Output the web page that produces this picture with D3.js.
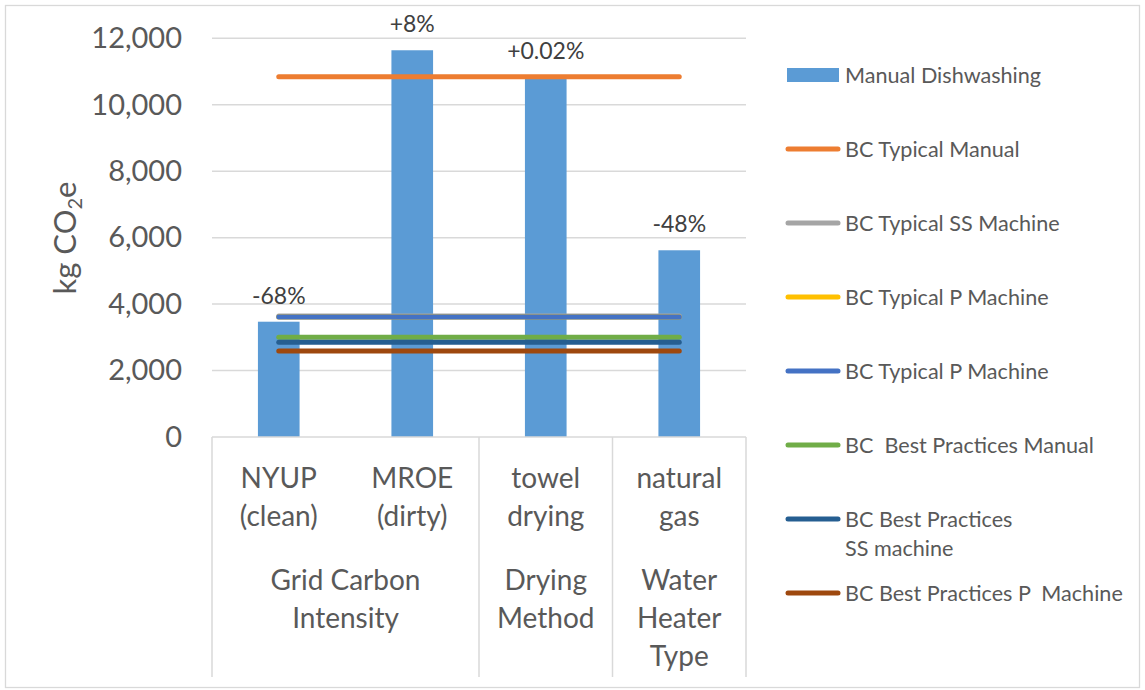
<!DOCTYPE html>
<html>
<head>
<meta charset="utf-8">
<script src="https://cdn.jsdelivr.net/npm/d3@7/dist/d3.min.js"></script>
<style>
  html, body { margin: 0; padding: 0; background: #fff; }
  svg { display: block; font-family: Lato, "Open Sans", sans-serif; }
</style>
</head>
<body>
<svg id="chart" width="1145" height="690"></svg>
<script>
// Sub-categories (two-line labels) and their parent groups
const subCategories = ["NYUP (clean)", "MROE (dirty)", "towel drying", "natural gas"];
const subLabelLines = [["NYUP", "(clean)"], ["MROE", "(dirty)"], ["towel", "drying"], ["natural", "gas"]];
const groupNames = ["Grid Carbon Intensity", "Drying Method", "Water Heater Type"];
const groupLabelLines = [["Grid Carbon", "Intensity"], ["Drying", "Method"], ["Water", "Heater", "Type"]];
const groupSpans = [[0, 1], [2, 2], [3, 3]];

// Manual dishwashing scenarios (bars) and their change labels
const manualValues = [3470, 11640, 10842, 5620];
const changeLabels = ["-68%", "+8%", "+0.02%", "-48%"];

// Reference lines (constant across categories)
const lineNames = ["BC Typical Manual", "BC Typical SS Machine", "BC Typical P Machine",
  "BC Typical P Machine", "BC  Best Practices Manual", "BC Best Practices\nSS machine",
  "BC Best Practices P  Machine"];
const typicalManual = [10840, 10840, 10840, 10840];
const typicalSS = [3645, 3645, 3645, 3645];
const typicalPYellow = [3610, 3610, 3610, 3610];
const typicalPBlue = [3610, 3610, 3610, 3610];
const bestManual = [3000, 3000, 3000, 3000];
const bestSS = [2850, 2850, 2850, 2850];
const bestP = [2590, 2590, 2590, 2590];
const lineValues = [typicalManual, typicalSS, typicalPYellow, typicalPBlue, bestManual, bestSS, bestP];
const lineColors = ["#ED7D31", "#A5A5A5", "#FFC000", "#4472C4", "#70AD47", "#255E91", "#9E480E"];

const yTicks = [0, 2000, 4000, 6000, 8000, 10000, 12000];
const barColor = "#5B9BD5";

const svg = d3.select("#chart");
const plot = { left: 212, right: 746, top: 38.3, bottom: 437 };

// outer chart frame
svg.append("rect")
  .attr("x", 5.5).attr("y", 5.5).attr("width", 1134).attr("height", 682)
  .attr("fill", "#fff").attr("stroke", "#d9d9d9").attr("stroke-width", 1.3);

const x = d3.scaleBand().domain(subCategories).range([plot.left, plot.right]).padding(0);
const y = d3.scaleLinear().domain([0, 12000]).range([plot.bottom, plot.top]);
const barW = x.bandwidth() * 0.312;

// gridlines
svg.append("g").selectAll("line").data(yTicks.filter(d => d > 0)).join("line")
  .attr("x1", plot.left).attr("x2", plot.right)
  .attr("y1", d => y(d)).attr("y2", d => y(d))
  .attr("stroke", "#d9d9d9").attr("stroke-width", 1.5);

// y axis tick labels
const yAxis = d3.axisLeft(y).tickValues(yTicks).tickFormat(d3.format(",")).tickSize(0).tickPadding(0);
const yg = svg.append("g").attr("transform", "translate(182,0)").call(yAxis);
yg.select(".domain").remove();
yg.selectAll("text").attr("font-size", 29).attr("fill", "#595959")
  .attr("font-family", "Lato, 'Open Sans', sans-serif");

// y axis title
const yt = svg.append("text")
  .attr("transform", "translate(76,238) rotate(-90)")
  .attr("text-anchor", "middle")
  .attr("font-size", 31).attr("fill", "#595959");
yt.append("tspan").text("kg CO");
yt.append("tspan").text("2").attr("font-size", 20).attr("dy", 6);
yt.append("tspan").text("e").attr("dy", -6);

// bars
svg.append("g").selectAll("rect").data(manualValues).join("rect")
  .attr("x", (d, i) => x(subCategories[i]) + (x.bandwidth() - barW) / 2)
  .attr("y", d => y(d))
  .attr("width", barW)
  .attr("height", d => y(0) - y(d))
  .attr("fill", barColor);

// category axis: baseline and group separators
const axisG = svg.append("g").attr("stroke", "#d9d9d9").attr("stroke-width", 1.5);
axisG.append("line").attr("x1", plot.left).attr("x2", plot.right)
  .attr("y1", plot.bottom).attr("y2", plot.bottom);
const seps = [plot.left].concat(groupSpans.map(s => x(subCategories[s[1]]) + x.bandwidth()));
axisG.selectAll("line.sep").data(seps).join("line").attr("class", "sep")
  .attr("x1", d => d).attr("x2", d => d)
  .attr("y1", plot.bottom).attr("y2", 677);

// reference lines
const lineGen = d3.line()
  .x((d, i) => x(subCategories[i]) + x.bandwidth() / 2)
  .y(d => y(d));
svg.append("g").selectAll("path").data(lineValues).join("path")
  .attr("d", d => lineGen(d))
  .attr("fill", "none")
  .attr("stroke", (d, i) => lineColors[i])
  .attr("stroke-width", 5)
  .attr("stroke-linecap", "round");

// change labels above bars
svg.append("g").selectAll("text").data(manualValues).join("text")
  .attr("x", (d, i) => x(subCategories[i]) + x.bandwidth() / 2)
  .attr("y", d => y(d) - 18)
  .attr("text-anchor", "middle")
  .attr("font-size", 23).attr("fill", "#404040")
  .text((d, i) => changeLabels[i]);

// sub-category labels
const subG = svg.append("g").attr("font-size", 28).attr("fill", "#595959").attr("text-anchor", "middle");
subLabelLines.forEach((lines, i) => {
  const t = subG.append("text").attr("x", x(subCategories[i]) + x.bandwidth() / 2).attr("y", 488);
  lines.forEach((l, j) => t.append("tspan").attr("x", x(subCategories[i]) + x.bandwidth() / 2)
    .attr("dy", j === 0 ? 0 : 38).text(l));
});

// group labels
const grpG = svg.append("g").attr("font-size", 28).attr("fill", "#595959").attr("text-anchor", "middle");
groupLabelLines.forEach((lines, i) => {
  const s = groupSpans[i];
  const cx = (x(subCategories[s[0]]) + x(subCategories[s[1]]) + x.bandwidth()) / 2;
  const t = grpG.append("text").attr("x", cx).attr("y", 590);
  lines.forEach((l, j) => t.append("tspan").attr("x", cx).attr("dy", j === 0 ? 0 : 38).text(l));
});

// legend
const legendItems = [{ name: "Manual Dishwashing", color: barColor, type: "bar" }]
  .concat(lineNames.map((n, i) => ({ name: n, color: lineColors[i], type: "line" })));
const legY = d3.scalePoint().domain(d3.range(legendItems.length)).range([75, 593]);
const leg = svg.append("g");
legendItems.forEach((it, i) => {
  const cy = legY(i);
  if (it.type === "bar") {
    leg.append("rect").attr("x", 787).attr("y", cy - 7).attr("width", 52).attr("height", 14).attr("fill", it.color);
  } else {
    leg.append("line").attr("x1", 788).attr("x2", 838).attr("y1", cy).attr("y2", cy)
      .attr("stroke", it.color).attr("stroke-width", 5).attr("stroke-linecap", "round");
  }
  const t = leg.append("text").attr("x", 845).attr("y", cy + 7.5)
    .attr("font-size", 21.6).attr("fill", "#595959").style("white-space", "pre");
  it.name.split("\n").forEach((l, j) => t.append("tspan").attr("x", 845).attr("dy", j === 0 ? 0 : 29).text(l));
});
</script>
</body>
</html>
